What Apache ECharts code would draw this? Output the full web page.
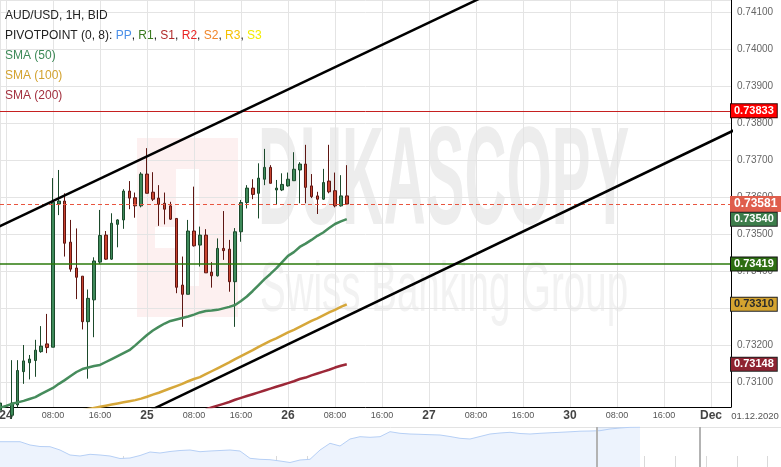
<!DOCTYPE html>
<html>
<head>
<meta charset="utf-8">
<title>AUD/USD 1H</title>
<script src="https://cdn.jsdelivr.net/npm/echarts@6.0.0/dist/echarts.min.js"></script>
<style>
  html, body { margin: 0; padding: 0; background: #fff; }
  #chart { width: 781px; height: 467px; }
</style>
</head>
<body>
<div id="chart"></div>
<script>
// hourly candles, hour 0 = 24 Nov 00:00 (weekend hours are skipped)
const firstHour = -1;
const opens = [0.73024, 0.73028, 0.73010, 0.73038, 0.73128, 0.73152, 0.73158, 0.73182, 0.73203, 0.73194,
  0.73581, 0.73589, 0.73478, 0.73408, 0.73386, 0.73263, 0.73322, 0.73424, 0.73497, 0.73432,
  0.73526, 0.73538, 0.73616, 0.73598, 0.73576, 0.73662, 0.73613, 0.73597, 0.73583, 0.73576,
  0.73542, 0.73362, 0.73337, 0.73508, 0.73470, 0.73497, 0.73397, 0.73387, 0.73461, 0.73459,
  0.73371, 0.73506, 0.73585, 0.73624, 0.73610, 0.73648, 0.73680, 0.73619, 0.73619, 0.73630,
  0.73644, 0.73673, 0.73689, 0.73630, 0.73603, 0.73594, 0.73643, 0.73617, 0.73576, 0.73603];
const closes = [0.73043, 0.73005, 0.73043, 0.73131, 0.73157, 0.73162, 0.73186, 0.73197, 0.73193, 0.73586,
  0.73589, 0.73475, 0.73405, 0.73383, 0.73263, 0.73326, 0.73427, 0.73496, 0.73432, 0.73529,
  0.73538, 0.73616, 0.73597, 0.73576, 0.73662, 0.73610, 0.73594, 0.73580, 0.73567, 0.73540,
  0.73356, 0.73337, 0.73508, 0.73468, 0.73497, 0.73395, 0.73387, 0.73461, 0.73455, 0.73371,
  0.73506, 0.73585, 0.73624, 0.73607, 0.73651, 0.73680, 0.73637, 0.73624, 0.73634, 0.73648,
  0.73675, 0.73689, 0.73626, 0.73601, 0.73594, 0.73639, 0.73614, 0.73576, 0.73603, 0.73581];
const lows = [0.73011, 0.72990, 0.73000, 0.73032, 0.73095, 0.73107, 0.73114, 0.73179, 0.73178, 0.73194,
  0.73551, 0.73439, 0.73398, 0.73324, 0.73242, 0.73109, 0.73221, 0.73419, 0.73430, 0.73430,
  0.73464, 0.73514, 0.73567, 0.73544, 0.73572, 0.73610, 0.73589, 0.73522, 0.73526, 0.73538,
  0.73340, 0.73249, 0.73337, 0.73466, 0.73412, 0.73395, 0.73355, 0.73385, 0.73430, 0.73344,
  0.73249, 0.73479, 0.73569, 0.73594, 0.73542, 0.73632, 0.73637, 0.73581, 0.73616, 0.73628,
  0.73644, 0.73583, 0.73583, 0.73597, 0.73554, 0.73592, 0.73610, 0.73572, 0.73574, 0.73580];
const highs = [0.73057, 0.73031, 0.73159, 0.73159, 0.73200, 0.73173, 0.73214, 0.73251, 0.73284, 0.73651,
  0.73673, 0.73610, 0.73538, 0.73515, 0.73386, 0.73350, 0.73437, 0.73565, 0.73508, 0.73556,
  0.73540, 0.73621, 0.73643, 0.73612, 0.73667, 0.73732, 0.73667, 0.73632, 0.73612, 0.73587,
  0.73542, 0.73439, 0.73538, 0.73628, 0.73520, 0.73513, 0.73424, 0.73488, 0.73562, 0.73484,
  0.73516, 0.73592, 0.73632, 0.73648, 0.73691, 0.73730, 0.73686, 0.73646, 0.73664, 0.73666,
  0.73721, 0.73694, 0.73741, 0.73662, 0.73614, 0.73676, 0.73741, 0.73666, 0.73659, 0.73686];

const sma50Start = -1;
const sma50 = [0.73030, 0.73035, 0.73041, 0.73045, 0.73049, 0.73054, 0.73059, 0.73068, 0.73076, 0.73084,
  0.73095, 0.73105, 0.73116, 0.73127, 0.73135, 0.73139, 0.73143, 0.73146, 0.73154, 0.73162,
  0.73170, 0.73178, 0.73186, 0.73199, 0.73213, 0.73227, 0.73239, 0.73249, 0.73258, 0.73265,
  0.73269, 0.73273, 0.73277, 0.73282, 0.73288, 0.73292, 0.73293, 0.73295, 0.73299, 0.73303,
  0.73308, 0.73319, 0.73331, 0.73346, 0.73362, 0.73378, 0.73392, 0.73407, 0.73424, 0.73441,
  0.73451, 0.73465, 0.73474, 0.73484, 0.73495, 0.73504, 0.73516, 0.73527, 0.73534, 0.73540];
const sma100Start = 13;
const sma100 = [0.73024, 0.73027, 0.73030, 0.73033, 0.73036, 0.73039, 0.73042, 0.73045, 0.73048, 0.73051,
  0.73055, 0.73060, 0.73066, 0.73071, 0.73077, 0.73083, 0.73089, 0.73095, 0.73102, 0.73108,
  0.73113, 0.73121, 0.73129, 0.73137, 0.73145, 0.73153, 0.73162, 0.73170, 0.73178, 0.73186,
  0.73195, 0.73203, 0.73211, 0.73218, 0.73226, 0.73234, 0.73241, 0.73249, 0.73257, 0.73265,
  0.73272, 0.73280, 0.73288, 0.73295, 0.73303, 0.73310];
const sma200Start = 34;
const sma200 = [0.73026, 0.73031, 0.73036, 0.73041, 0.73046, 0.73052, 0.73057, 0.73062, 0.73067, 0.73072,
  0.73077, 0.73082, 0.73087, 0.73092, 0.73097, 0.73102, 0.73108, 0.73112, 0.73118, 0.73123,
  0.73128, 0.73133, 0.73139, 0.73144, 0.73148];

// trend channel, [hour, price]
const upperChannel = [[-2, 0.73514], [90, 0.74207]];
const lowerChannel = [[24, 0.73019], [124, 0.73781]];

// pivot levels drawn across the chart
const pivotRed = 0.73833;
const pivotGreen = 0.73419;

const xTickHours = [0, 8, 16, 24, 32, 40, 48, 56, 64, 72, 80, 88, 96, 104, 112, 120];
const xTickLabels = ['24', '08:00', '16:00', '25', '08:00', '16:00', '26', '08:00', '16:00',
  '27', '08:00', '16:00', '30', '08:00', '16:00', 'Dec'];

// navigator overview (one sample per 12h)
const navValues = [0.7213, 0.7213, 0.7213, 0.7180, 0.7165, 0.7163, 0.7130, 0.7080, 0.7070, 0.7087,
  0.7080, 0.7070, 0.7045, 0.7050, 0.7075, 0.7110, 0.7100, 0.7115, 0.7125, 0.7130,
  0.7113, 0.7120, 0.7125, 0.7130, 0.7120, 0.7047, 0.7037, 0.7033, 0.7020, 0.7005,
  0.7030, 0.7037, 0.7130, 0.7197, 0.7170, 0.7240, 0.7263, 0.7257, 0.7263, 0.7313,
  0.7297, 0.7290, 0.7287, 0.7283, 0.7280, 0.7265, 0.7247, 0.7240, 0.7265, 0.7290,
  0.7300, 0.7307, 0.7295, 0.7290, 0.7297, 0.7302, 0.7307, 0.7312, 0.7318, 0.7320,
  0.7323, 0.7340, 0.7350, 0.7357, 0.7358];
const navWindow = [59.7, 70.0];

const font = '"Liberation Sans", Arial, sans-serif';

const candles = opens.map((o, i) => [firstHour + i, o, closes[i], lows[i], highs[i]]);
const toPairs = (start, vals) => vals.map((v, i) => [start + i, v]);
const lastClose = closes[closes.length - 1];

function tag(value, bg, fg, border, size) {
  return {
    show: true,
    position: 'end',
    distance: 0,
    formatter: value.toFixed(5),
    backgroundColor: bg,
    color: fg,
    borderColor: border || bg,
    borderWidth: 1,
    fontFamily: font,
    fontWeight: 'bold',
    fontSize: size,
    lineHeight: size + 1,
    padding: [1, 3, 0, 3]
  };
}

function smaSeries(name, start, vals, color, tagBg, tagFg) {
  return {
    name: name,
    type: 'line',
    data: toPairs(start, vals),
    showSymbol: false,
    lineStyle: { color: color, width: 2.5 },
    z: 3,
    markLine: {
      silent: true,
      precision: 5,
      symbol: ['none', 'none'],
      lineStyle: { color: 'rgba(0,0,0,0)', width: 0 },
      data: [{ yAxis: vals[vals.length - 1], label: tag(vals[vals.length - 1], tagBg, tagFg, '#222', 11) }]
    }
  };
}

const chart = echarts.init(document.getElementById('chart'));

chart.setOption({
  animation: false,
  backgroundColor: '#fff',
  textStyle: { fontFamily: font },
  grid: [
    { left: 0, right: 50, top: 0, bottom: 60, outerBoundsMode: 'none' },
    { left: 0, right: 0, top: 427, height: 40, outerBoundsMode: 'none' }
  ],
  xAxis: [
    {
      type: 'value',
      gridIndex: 0,
      min: -1.02,
      max: 123.4,
      minInterval: 8,
      maxInterval: 8,
      axisLine: { show: true, onZero: false, lineStyle: { color: '#000', width: 1 } },
      axisTick: { show: false },
      splitLine: { show: true, lineStyle: { color: '#e4e4e4' } },
      axisLabel: {
        showMinLabel: false,
        showMaxLabel: false,
        margin: 0,
        formatter: (v) => {
          const k = xTickHours.indexOf(Math.round(v));
          if (k < 0) return '';
          const s = xTickLabels[k];
          return s.indexOf(':') > 0 ? '{t|' + s + '}' : '{d|' + s + '}';
        },
        rich: {
          d: { fontSize: 12, fontWeight: 'bold', color: '#444', lineHeight: 18, fontFamily: font },
          t: { fontSize: 9, color: '#555', lineHeight: 18, fontFamily: font }
        }
      }
    },
    {
      type: 'value',
      gridIndex: 1,
      min: 0,
      max: 78.1,
      interval: 3.07,
      axisLine: { show: false },
      axisTick: { show: true, inside: true, length: 11, lineStyle: { color: '#d9d9d9' } },
      axisLabel: { show: false },
      splitLine: { show: false }
    },
    {
      type: 'value',
      gridIndex: 1,
      position: 'top',
      min: 0,
      max: 78.1,
      axisLine: { show: true, onZero: false, lineStyle: { color: '#e3e3e3' } },
      axisTick: { show: false },
      axisLabel: { show: false },
      splitLine: { show: false }
    }
  ],
  yAxis: [
    {
      type: 'value',
      gridIndex: 0,
      position: 'right',
      min: 0.730324,
      max: 0.741324,
      minInterval: 0.001,
      maxInterval: 0.001,
      axisLine: { show: true, onZero: false, lineStyle: { color: '#000', width: 1 } },
      axisTick: { show: false },
      splitLine: { show: true, lineStyle: { color: '#e4e4e4' } },
      axisLabel: {
        showMinLabel: false,
        showMaxLabel: false,
        margin: 6,
        color: '#666',
        fontSize: 10,
        fontFamily: font,
        formatter: (v) => v.toFixed(5)
      }
    },
    { type: 'value', gridIndex: 1, min: 0.696, max: 0.736, show: false }
  ],
  graphic: [
    // watermark
    { type: 'rect', z: -10, shape: { x: 137, y: 138, width: 101, height: 179 }, style: { fill: '#fdf0f0' } },
    { type: 'rect', z: -9, shape: { x: 176, y: 169, width: 23, height: 117 }, style: { fill: '#fff' } },
    { type: 'rect', z: -9, shape: { x: 155, y: 227, width: 22, height: 21 }, style: { fill: '#fff' } },
    { type: 'text', z: -9, x: 258, y: 185, scaleX: 0.415,
      style: { text: 'DUKASCOPY', font: 'bold 140px ' + font, fill: '#ededed', verticalAlign: 'middle' } },
    { type: 'text', z: -9, x: 260, y: 292, scaleX: 0.55,
      style: { text: 'Swiss Banking Group', font: '70px ' + font, fill: '#f2f2f2', verticalAlign: 'middle' } },
    // legend texts
    { type: 'text', z: 20, x: 5, y: 16,
      style: { text: 'AUD/USD, 1H, BID', font: '12px ' + font, fill: '#222', verticalAlign: 'middle' } },
    { type: 'text', z: 20, x: 5, y: 36,
      style: {
        text: '{k|PIVOTPOINT (0, 8): }{pp|PP}{k|, }{r1|R1}{k|, }{s1|S1}{k|, }{r2|R2}{k|, }{s2|S2}{k|, }{r3|R3}{k|, }{s3|S3}',
        font: '12px ' + font,
        verticalAlign: 'middle',
        rich: {
          k: { fill: '#222', fontSize: 12, fontFamily: font },
          pp: { fill: '#4b8fe8', fontSize: 12, fontFamily: font },
          r1: { fill: '#3a7a1e', fontSize: 12, fontFamily: font },
          s1: { fill: '#b02a2a', fontSize: 12, fontFamily: font },
          r2: { fill: '#ea2424', fontSize: 12, fontFamily: font },
          s2: { fill: '#f0862a', fontSize: 12, fontFamily: font },
          r3: { fill: '#f5c000', fontSize: 12, fontFamily: font },
          s3: { fill: '#f2ec00', fontSize: 12, fontFamily: font }
        }
      } },
    { type: 'text', z: 20, x: 5, y: 56,
      style: { text: 'SMA (50)', font: '12px ' + font, fill: '#3e8a58', verticalAlign: 'middle' } },
    { type: 'text', z: 20, x: 5, y: 76,
      style: { text: 'SMA (100)', font: '12px ' + font, fill: '#d3a22e', verticalAlign: 'middle' } },
    { type: 'text', z: 20, x: 5, y: 96,
      style: { text: 'SMA (200)', font: '12px ' + font, fill: '#a3303e', verticalAlign: 'middle' } },
    { type: 'text', z: 20, x: 755, y: 416,
      style: { text: '01.12.2020', font: '9.5px ' + font, fill: '#555', align: 'center', verticalAlign: 'middle' } }
  ],
  series: [
    {
      name: 'AUD/USD',
      type: 'candlestick',
      xAxisIndex: 0,
      yAxisIndex: 0,
      data: candles,
      encode: { x: 0, y: [1, 2, 3, 4] },
      barWidth: 3,
      itemStyle: {
        color: '#3e8a5a',
        color0: '#c9432f',
        borderColor: '#1b4a2b',
        borderColor0: '#5e1612',
        borderWidth: 1
      },
      z: 2,
      markLine: {
        silent: true,
        precision: 5,
        symbol: ['none', 'none'],
        data: [
          { yAxis: pivotRed, lineStyle: { color: '#c62020', width: 1, type: 'solid' },
            label: tag(pivotRed, '#ff0000', '#fff', '#3a0000', 11) },
          { yAxis: lastClose, lineStyle: { color: '#e8553f', width: 1, type: [4, 3] },
            label: tag(lastClose, '#df5e4c', '#fff', null, 12) },
          { yAxis: pivotGreen, lineStyle: { color: '#2b7a0b', width: 1.5, type: 'solid' },
            label: tag(pivotGreen, '#2d6e12', '#fff', '#111', 11) }
        ]
      }
    },
    smaSeries('SMA (50)', sma50Start, sma50, '#468c5c', '#3d7d4b', '#fff'),
    smaSeries('SMA (100)', sma100Start, sma100, '#d6a73a', '#d5a430', '#2a2a2a'),
    smaSeries('SMA (200)', sma200Start, sma200, '#9c2838', '#8e2331', '#fff'),
    {
      name: 'upper channel',
      type: 'line',
      data: upperChannel,
      showSymbol: false,
      lineStyle: { color: '#000', width: 2.5 },
      z: 5
    },
    {
      name: 'lower channel',
      type: 'line',
      data: lowerChannel,
      showSymbol: false,
      lineStyle: { color: '#000', width: 2.5 },
      z: 5
    },
    {
      name: 'navigator',
      type: 'line',
      xAxisIndex: 1,
      yAxisIndex: 1,
      data: navValues.map((v, i) => [i, v]),
      showSymbol: false,
      lineStyle: { color: '#b6cff5', width: 1 },
      areaStyle: { color: '#edf3fd', opacity: 1 },
      markArea: {
        silent: true,
        itemStyle: { color: 'rgba(150,185,240,0.22)' },
        data: [[{ xAxis: navWindow[0] }, { xAxis: navValues.length - 1 }]]
      },
      markLine: {
        silent: true,
        symbol: ['none', 'none'],
        label: { show: false },
        lineStyle: { color: '#b3b3b3', width: 2, type: 'solid' },
        data: [{ xAxis: navWindow[0] }, { xAxis: navWindow[1] }]
      }
    }
  ]
});
</script>
</body>
</html>
